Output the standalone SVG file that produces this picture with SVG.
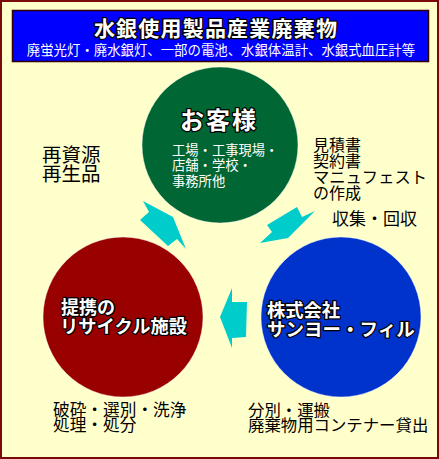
<svg xmlns="http://www.w3.org/2000/svg" width="439" height="459" viewBox="0 0 439 459">
<style>
text{font-family:"Noto Sans CJK JP","Noto Sans CJK SC",sans-serif}
.ol{fill:#fff;font-weight:bold;stroke:#000;stroke-width:2.5;stroke-linejoin:round;paint-order:stroke}
.wt{fill:#fff}
.bk{fill:#000;font-size:16px}
.circ{stroke:#fff;stroke-opacity:0.45;stroke-width:1}
.arr{fill:#00CCCC}
</style>
<rect x="1" y="1" width="437" height="457" fill="#FFFFCC" stroke="#7a0a0a" stroke-width="2"/>
<g id="title">
<rect x="12.5" y="10.5" width="416" height="51" fill="#0000FF" stroke="#330000" stroke-width="1.5"/>
<text class="ol" x="216" y="36" font-size="21" letter-spacing="1.2" text-anchor="middle">水銀使用製品産業廃棄物</text>
<text class="wt" x="221" y="55" font-size="13.4" text-anchor="middle">廃蛍光灯・廃水銀灯、一部の電池、水銀体温計、水銀式血圧計等</text>
</g>
<g id="connectors">
<polygon class="arr" points="143,201 173,217 186,249 177,239 168,246 140,220 149,212"/>
<polygon class="arr" points="267,225 297,207 302,217 315,211 288,238 260,243 272,232"/>
<polygon class="arr" points="220,317 232,288 232,302 247,302 246,337 232,338 232,348"/>
</g>
<g id="customer">
<circle class="circ" cx="220" cy="145" r="78" fill="#006633"/>
<text class="ol" x="219" y="129" font-size="24" letter-spacing="2" text-anchor="middle">お客様</text>
<text class="wt" x="172" y="155" font-size="13.3">工場・工事現場・</text>
<text class="wt" x="172" y="170" font-size="13.3">店舗・学校・</text>
<text class="wt" x="172" y="186" font-size="13.3">事務所他</text>
</g>
<g id="recycle">
<circle class="circ" cx="123" cy="317" r="80" fill="#990000"/>
<text class="ol" x="61" y="314" font-size="18">提携の</text>
<text class="ol" x="60" y="333" font-size="18.3">リサイクル施設</text>
</g>
<g id="sanyo">
<circle class="circ" cx="341" cy="317" r="80" fill="#0033CC"/>
<text class="ol" x="267" y="317" font-size="18.3">株式会社</text>
<text class="ol" x="267" y="336" font-size="18.5">サンヨー・フィル</text>
</g>
<g id="labels">
<text class="bk" x="42" y="162" font-size="19" style="font-size:19.5px">再資源</text>
<text class="bk" x="42" y="181" style="font-size:19.5px">再生品</text>
<text class="bk" x="313" y="151">見積書</text>
<text class="bk" x="313" y="167">契約書</text>
<text class="bk" x="313" y="183" style="font-size:16.3px">マニュフェスト</text>
<text class="bk" x="313" y="199">の作成</text>
<text class="bk" x="332" y="225" style="font-size:17px">収集・回収</text>
<text class="bk" x="53" y="416" style="font-size:16.7px">破砕・選別・洗浄</text>
<text class="bk" x="53" y="431" style="font-size:16.7px">処理・処分</text>
<text class="bk" x="248" y="416" style="font-size:16.4px">分別・運搬</text>
<text class="bk" x="248" y="431" style="font-size:16.4px">廃棄物用コンテナー貸出</text>
</g>
</svg>
